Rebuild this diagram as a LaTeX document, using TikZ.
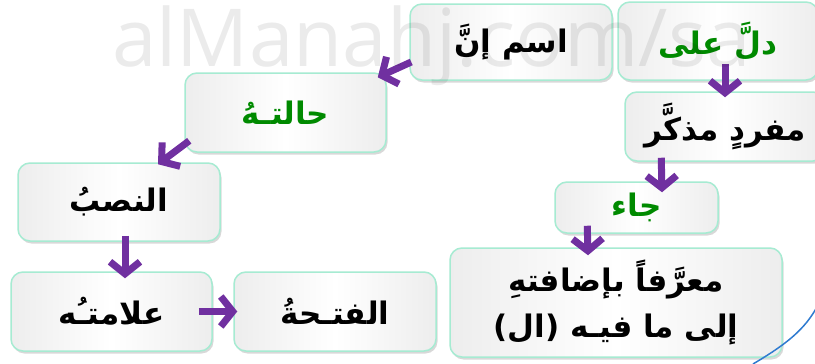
\documentclass[tikz,border=0pt]{standalone}
\usepackage{fontspec}
\setmainfont{Liberation Sans}
\newfontfamily\wmfont{Open Sans}
\newfontfamily\arabicfont[Script=Arabic]{DejaVu Sans}
\TeXXeTstate=1
\usetikzlibrary{arrows.meta,shadows}
\definecolor{boxline}{HTML}{A6EBD2}
\definecolor{arrowc}{HTML}{7030A0}
\definecolor{greentxt}{HTML}{008A00}
\definecolor{arcblue}{HTML}{2F7BD0}
\begin{document}
\begin{tikzpicture}[x=1pt,y=-1pt,
  box/.style={draw=boxline, line width=1.5pt, rounded corners=12pt,
    left color=black!7, right color=black!7, middle color=white,
    drop shadow={opacity=0.3,shadow xshift=1.5pt,shadow yshift=-2.5pt},
    inner sep=0pt, align=center,
    font=\arabicfont\bfseries\fontsize{31}{46}\selectfont},
  arr/.style={draw=arrowc, line width=7pt, -{Straight Barb[length=12pt,width=30pt]}}]
\useasboundingbox (0,0) rectangle (815,364);
\clip (0,0) rectangle (815,364);
\fill[white] (0,0) rectangle (815,364);
\node[box, minimum width=202pt, minimum height=76pt] (n1) at (511,42) {\beginR اسم إنَّ\endR};
\node[box, minimum width=200pt, minimum height=78pt, text=greentxt] (n2) at (718,41) {\beginR دلَّ على\endR};
\node[box, minimum width=201pt, minimum height=79pt, text=greentxt] (n3) at (285.5,112.5) {\beginR حالتـهُ\endR};
\node[box, minimum width=202pt, minimum height=78pt] (n4) at (119,202) {\beginR النصبُ\endR};
\node[box, minimum width=201pt, minimum height=79pt] (n5) at (111.5,311.5) {\beginR علامتـُه\endR};
\node[box, minimum width=202pt, minimum height=79pt] (n6) at (335,311.5) {\beginR الفتـحةُ\endR};
\node[box, minimum width=200pt, minimum height=69pt] (n7) at (725,126.5) {\beginR مفردٍ مذكَّر\endR};
\node[box, minimum width=163pt, minimum height=51pt, text=greentxt] (n8) at (636.5,207.5) {\beginR جاء\endR};
\node[box, minimum width=332pt, minimum height=109pt] (n9) at (616,302.5) {\beginR معرَّفاً بإضافتهِ\endR\\\beginR إلى ما فيـه (ال)\endR};
\draw[arr] ([xshift=2pt,yshift=-20pt]n1.west) -- ([xshift=-9pt,yshift=-5pt]n3.north east);
\draw[arr] ([xshift=7pt,yshift=17pt]n2.south) -- ([xshift=0pt,yshift=-6pt]n7.north);
\draw[arr] ([xshift=5pt,yshift=12pt]n3.south west) -- ([xshift=39pt,yshift=-2pt]n4.north);
\draw[arr] ([xshift=6pt,yshift=6pt]n4.south) -- ([xshift=13.5pt,yshift=-7pt]n5.north);
\draw[arr] ([xshift=-14pt]n5.east) -- ([xshift=4pt]n6.west);
\draw[arr] ([xshift=37pt,yshift=4pt]n7.south west) -- ([xshift=25.5pt,yshift=-11pt]n8.north);
\draw[arr] ([xshift=33pt,yshift=8pt]n8.south west) -- ([xshift=-28pt,yshift=-8pt]n9.north);
\draw[arcblue, line width=1.5pt] (753,364) .. controls (785,345) and (805,330) .. (818,305);
\node[font=\wmfont\fontsize{80}{80}\selectfont, text=black, opacity=0.08, inner sep=0pt, anchor=base west] (wm) at (112,66) {alManahj.com/sa};
\end{tikzpicture}
\end{document}
